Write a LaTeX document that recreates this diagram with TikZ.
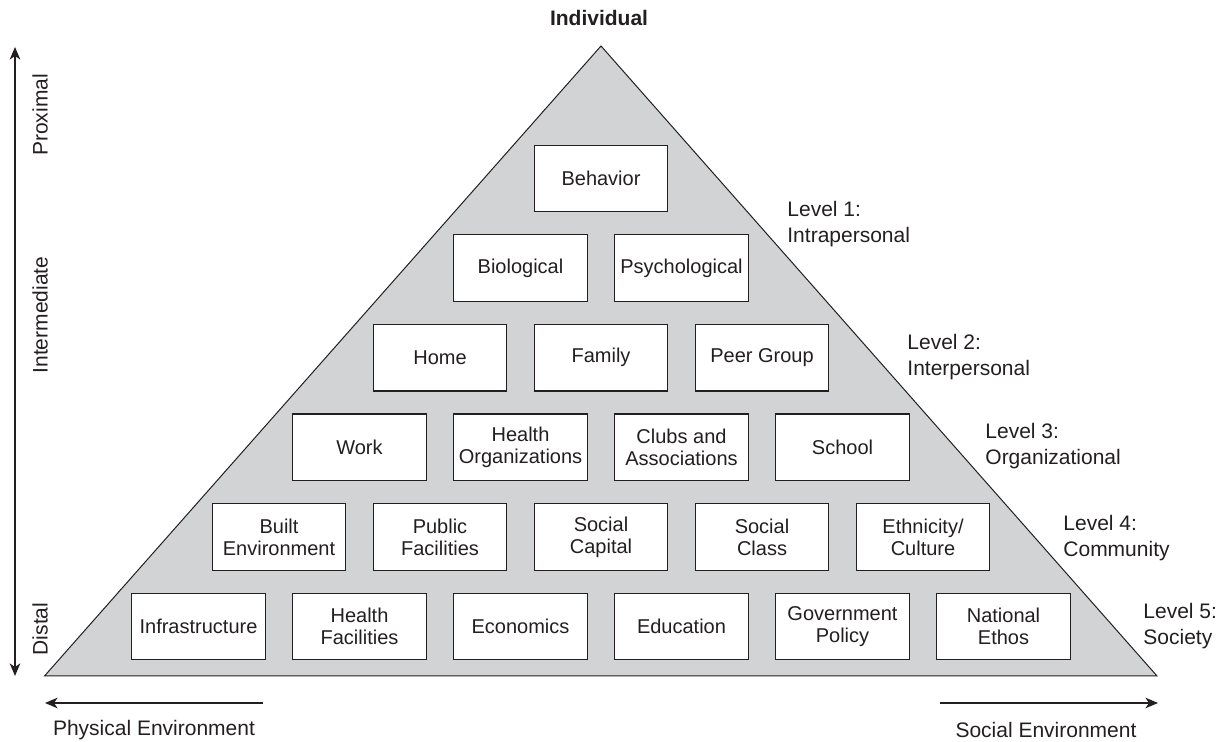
\documentclass[tikz,border=0pt]{standalone}
\usepackage{fontspec}
\setmainfont{Liberation Sans}
\usetikzlibrary{arrows.meta,positioning}
\definecolor{pyrgray}{RGB}{209,211,212}
\definecolor{inkgray}{RGB}{35,31,32}
\tikzset{
  factor/.style={draw=inkgray, line width=0.6pt, fill=white, minimum width=66.65pt,
                 minimum height=33.35pt, inner sep=1pt, align=center,
                 font=\fontsize{10}{11}\selectfont, text=inkgray},
  level/.style={anchor=west, align=left, inner sep=0pt,
                font=\fontsize{10.5}{13}\selectfont, text=inkgray},
  axislabel/.style={inner sep=0pt, font=\fontsize{10.5}{13}\selectfont, text=inkgray},
  pyramid/.style={draw=inkgray, line width=0.5pt, fill=pyrgray},
  axis/.style={line width=0.6pt, draw=inkgray}
}

\begin{document}
\begin{tikzpicture}[x=0.5pt, y=0.5pt, node distance=13.25pt,
    >={Stealth[length=6.3pt,width=5.3pt,inset=1.8pt]}]
  \useasboundingbox (0,0) rectangle (1225,742);
  % the pyramid
  \coordinate (apex) at (601,696);
  \coordinate (bl) at (44.5,66);
  \coordinate (br) at (1157,66);
  \draw[pyramid] (apex) -- (bl) -- (br) -- cycle;
  \node[axislabel, font=\fontsize{10.5}{13}\selectfont\bfseries] (indiv) at (599,724) {Individual};

  % level 1
  \node[factor] (behavior) at (601,563.5) {Behavior};
  \node[factor] (bio) at (520.5,473.9) {Biological};
  \node[factor, right=of bio] (psych) {Psychological};
  % level 2
  \node[factor] (home) at (440,384.3) {Home};
  \node[factor, right=of home] (family) {Family};
  \node[factor, right=of family] (peer) {Peer Group};
  % level 3
  \node[factor] (work) at (359.5,294.7) {Work};
  \node[factor, right=of work] (healthorg) {Health\\Organizations};
  \node[factor, right=of healthorg] (clubs) {Clubs and\\Associations};
  \node[factor, right=of clubs] (school) {School};
  % level 4
  \node[factor] (built) at (279,205.1) {Built\\Environment};
  \node[factor, right=of built] (public) {Public\\Facilities};
  \node[factor, right=of public] (capital) {Social\\Capital};
  \node[factor, right=of capital] (class) {Social\\Class};
  \node[factor, right=of class] (ethnic) {Ethnicity/\\Culture};
  % level 5
  \node[factor] (infra) at (198.5,115.5) {Infrastructure};
  \node[factor, right=of infra] (healthfac) {Health\\Facilities};
  \node[factor, right=of healthfac] (econ) {Economics};
  \node[factor, right=of econ] (edu) {Education};
  \node[factor, right=of edu] (gov) {Government\\Policy};
  \node[factor, right=of gov] (ethos) {National\\Ethos};

  % level labels on the right
  \node[level] (lvl1) at (787,518) {Level 1:\\Intrapersonal};
  \node[level] (lvl2) at (907,384.5) {Level 2:\\Interpersonal};
  \node[level] (lvl3) at (985,296) {Level 3:\\Organizational};
  \node[level] (lvl4) at (1063,204) {Level 4:\\Community};
  \node[level] (lvl5) at (1143,116) {Level 5:\\Society};

  % proximal -- distal axis
  \coordinate (vtop) at (15,695);
  \coordinate (vbot) at (15,66);
  \draw[axis, <->] (vbot) -- (vtop);
  \node[axislabel, rotate=90] (proximal) at (40,627) {Proximal};
  \node[axislabel, rotate=90] (intermed) at (40,427) {Intermediate};
  \node[axislabel, rotate=90] (distal) at (40,113) {Distal};

  % physical -- social axis
  \coordinate (pstart) at (263,39);
  \coordinate (pend) at (45,39);
  \coordinate (sstart) at (940,39);
  \coordinate (send) at (1158,39);
  \draw[axis, ->] (pstart) -- (pend);
  \draw[axis, ->] (sstart) -- (send);
  \node[axislabel] (physical) at (154,12) {Physical Environment};
  \node[axislabel] (social) at (1046,12) {Social Environment};
\end{tikzpicture}
\end{document}
